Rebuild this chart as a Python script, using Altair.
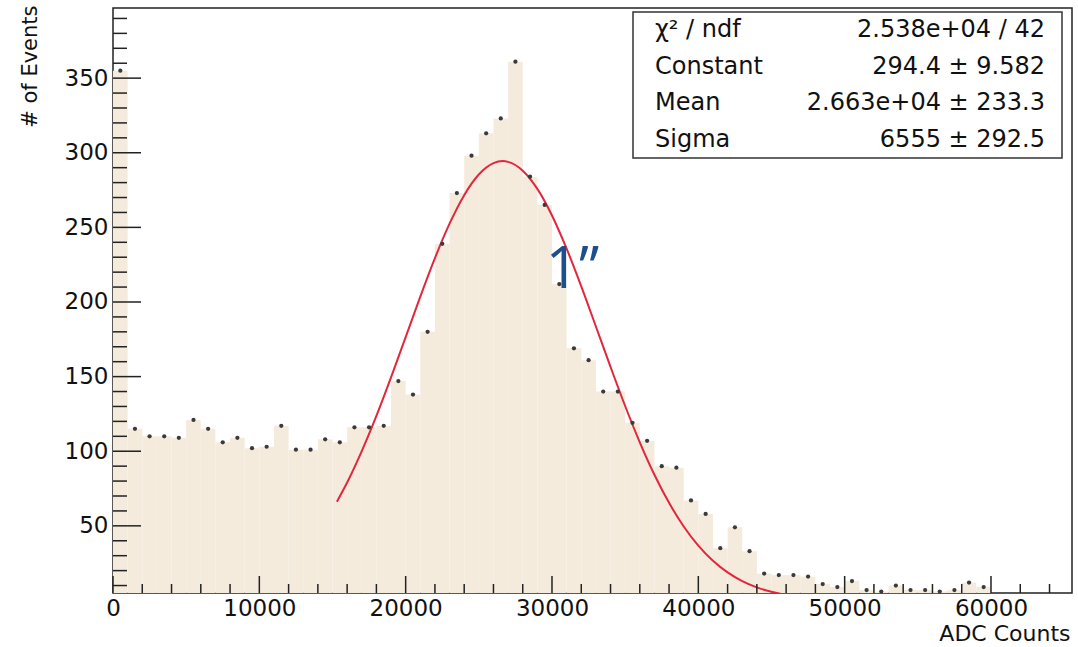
import altair as alt
import pandas as pd

# ---------------- data ----------------
bin_width = 1000
counts = [355, 115, 110, 110, 109, 121, 115, 106, 109, 102,
          103, 117, 101, 101, 108, 106, 116, 116, 117, 147,
          138, 180, 239, 273, 298, 313, 323, 361, 284, 265,
          212, 169, 161, 140, 140, 119, 107, 90, 89, 67,
          58, 35, 49, 33, 18, 17, 17, 16, 11, 9,
          13, 7, 6, 10, 7, 7, 6, 7, 12, 9,
          0, 0, 0, 0, 0]

# gaussian fit curve
curve_x = [15300, 16000, 17000, 18000, 19000, 20000, 21000, 22000, 23000, 24000,
           25000, 26000, 26630, 27000, 28000, 29000, 30000, 31000, 32000, 33000,
           34000, 35000, 36000, 37000, 38000, 39000, 40000, 41000, 42000, 43000,
           44000, 45000, 46000]
curve_y = [66.1, 79.0, 100.1, 123.7, 149.5, 176.5, 203.6, 229.4, 252.5, 271.6,
           285.4, 293.0, 294.4, 293.9, 288.0, 275.8, 258.0, 235.7, 210.5, 183.6,
           156.5, 130.3, 106.0, 84.2, 65.4, 49.6, 36.8, 26.6, 18.8, 13.0,
           8.8, 5.8, 3.7]

x_tick_labels = [0, 10000, 20000, 30000, 40000, 50000, 60000]
x_minor = [2000, 4000, 6000, 8000, 12000, 14000, 16000, 18000, 22000, 24000,
           26000, 28000, 32000, 34000, 36000, 38000, 42000, 44000, 46000, 48000,
           52000, 54000, 56000, 58000, 62000, 64000]
y_tick_labels = [50, 100, 150, 200, 250, 300, 350]
y_minor = [10, 20, 30, 40, 60, 70, 80, 90, 110, 120, 130, 140, 160, 170, 180, 190,
           210, 220, 230, 240, 260, 270, 280, 290, 310, 320, 330, 340, 360, 370,
           380, 390]

stat_names = ["\u03c7\u00b2 / ndf", "Constant", "Mean", "Sigma"]
stat_values = ["2.538e+04 / 42", "294.4 \u00b1 9.582", "2.663e+04 \u00b1 233.3", "6555 \u00b1 292.5"]

annot_text = ["1\u201d"]
annot_x = [31400]
annot_y = [221]

# ---------------- styling ----------------
W, H = 959, 585
FONT = "DejaVu Sans"
BAR = "#f5ebdd"
RED = "#e3263c"

hist = pd.DataFrame({
    "lo": [i * bin_width for i in range(len(counts))],
    "hi": [(i + 1) * bin_width for i in range(len(counts))],
    "mid": [(i + 0.5) * bin_width for i in range(len(counts))],
    "count": counts,
})
curve = pd.DataFrame({"cx": curve_x, "cy": curve_y})

xscale = alt.Scale(domain=[0, 65536], nice=False, zero=False)
yscale = alt.Scale(domain=[5, 397], nice=False, zero=False)

xaxis = alt.Axis(values=x_tick_labels, format="d", ticks=False, domain=False, grid=False,
                 labelFont=FONT, labelFontSize=23, labelColor="#111", labelPadding=4,
                 labelFlush=False, labelOverlap=False,
                 title="ADC Counts", titleFont=FONT, titleFontSize=22, titleFontWeight="normal",
                 titleColor="#111", titleX=W - 2, titleY=40, titleAlign="right",
                 titleBaseline="middle")
yaxis = alt.Axis(values=y_tick_labels, ticks=False, domain=False, grid=False,
                 labelFont=FONT, labelFontSize=23, labelColor="#111", labelPadding=5,
                 labelFlush=False, labelOverlap=False,
                 title="# of Events", titleFont=FONT, titleFontSize=21, titleFontWeight="normal",
                 titleColor="#111", titleX=-83, titleY=-3, titleAngle=-90, titleAlign="right",
                 titleBaseline="middle")

bars = alt.Chart(hist).mark_bar(color=BAR, clip=True, stroke=None).encode(
    x=alt.X("lo:Q", scale=xscale, axis=xaxis),
    x2="hi:Q",
    y=alt.Y("count:Q", scale=yscale, axis=yaxis),
    y2=alt.datum(0),
)

points = alt.Chart(hist).transform_filter("datum.count >= 5").mark_circle(
    size=18, color="#3a3a3a", opacity=1).encode(
    x=alt.X("mid:Q", scale=xscale),
    y=alt.Y("count:Q", scale=yscale),
)

line = alt.Chart(curve).mark_line(color=RED, strokeWidth=2, clip=True,
                                  interpolate="monotone").encode(
    x=alt.X("cx:Q", scale=xscale),
    y=alt.Y("cy:Q", scale=yscale),
)

xt = pd.DataFrame({"t": x_tick_labels})
xm = pd.DataFrame({"t": x_minor})
yt = pd.DataFrame({"t": y_tick_labels})
ym = pd.DataFrame({"t": y_minor})

xmaj_r = alt.Chart(xt).mark_rule(color="#222", strokeWidth=1.5).encode(
    x=alt.X("t:Q", scale=xscale), y=alt.value(H), y2=alt.value(H - 17))
xmin_r = alt.Chart(xm).mark_rule(color="#222", strokeWidth=1.5).encode(
    x=alt.X("t:Q", scale=xscale), y=alt.value(H), y2=alt.value(H - 9))
ymaj_r = alt.Chart(yt).mark_rule(color="#222", strokeWidth=1.5).encode(
    y=alt.Y("t:Q", scale=yscale), x=alt.value(0), x2=alt.value(28))
ymin_r = alt.Chart(ym).mark_rule(color="#222", strokeWidth=1.5).encode(
    y=alt.Y("t:Q", scale=yscale), x=alt.value(0), x2=alt.value(14))

annot = alt.Chart(pd.DataFrame({"t": annot_text, "ax": annot_x, "ay": annot_y})).mark_text(
    font="Open Sans", fontSize=58, color="#1d4f8f", align="center", baseline="middle").encode(
    x=alt.X("ax:Q", scale=xscale), y=alt.Y("ay:Q", scale=yscale), text="t:N")

one = pd.DataFrame({"v": [0]})
box = alt.Chart(one).mark_rect(fill="white", stroke="#333", strokeWidth=1.5).encode(
    x=alt.value(520), x2=alt.value(949), y=alt.value(4), y2=alt.value(150))

row_y = [22, 59, 95, 132]
stat_layers = []
for i in range(len(stat_names)):
    stat_layers.append(alt.Chart(one).mark_text(
        font=FONT, fontSize=24, color="#111", align="left", baseline="middle").encode(
        x=alt.value(542), y=alt.value(row_y[i]), text=alt.value(stat_names[i])))
    stat_layers.append(alt.Chart(one).mark_text(
        font=FONT, fontSize=24, color="#111", align="right", baseline="middle").encode(
        x=alt.value(932), y=alt.value(row_y[i]), text=alt.value(stat_values[i])))

chart = alt.layer(
    bars, line, points, xmaj_r, xmin_r, ymaj_r, ymin_r, annot, box, *stat_layers
).properties(
    width=W, height=H,
    padding={"left": 113, "top": 8, "right": 6, "bottom": 54},
    autosize=alt.AutoSizeParams(type="none"),
    background="white",
).configure_view(stroke="#222", strokeWidth=1.5)

chart.save("out.html", embed_options={"renderer": "svg", "actions": False})
